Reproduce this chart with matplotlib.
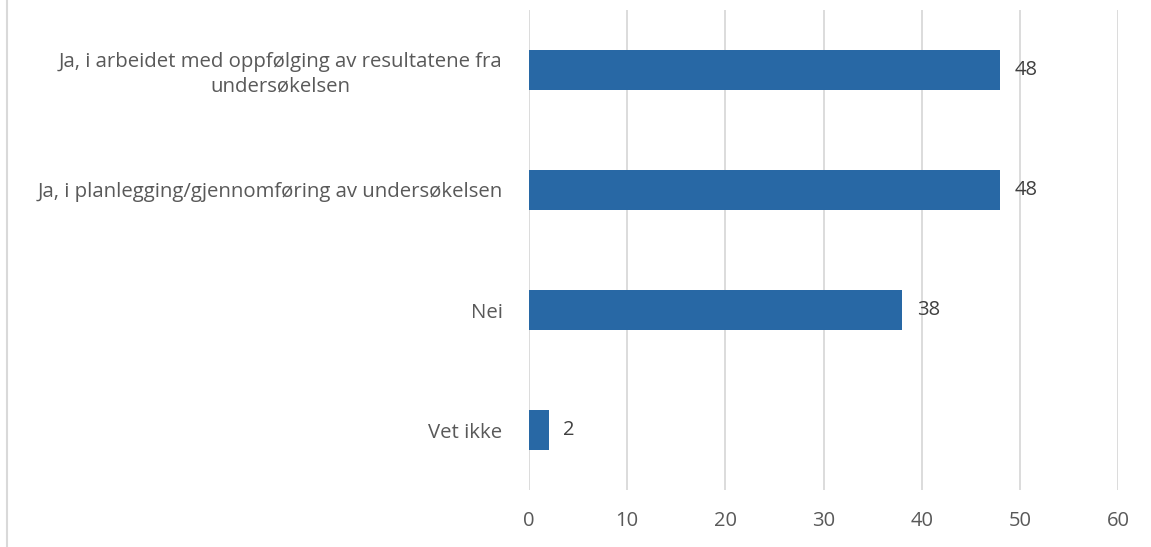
import matplotlib

matplotlib.use("Agg")
import matplotlib.pyplot as plt  # noqa: E402
from matplotlib.lines import Line2D  # noqa: E402

categories = [
    "Ja, i arbeidet med oppfølging av resultatene fra\nundersøkelsen",
    "Ja, i planlegging/gjennomføring av undersøkelsen",
    "Nei",
    "Vet ikke",
]
values = [48, 48, 38, 2]
x_ticks = [0, 10, 20, 30, 40, 50, 60]

plt.rcParams["font.family"] = ["Open Sans", "DejaVu Sans"]
text_color = "#595959"
bar_color = "#2868a5"
grid_color = "#d9d9d9"

fig = plt.figure(figsize=(11.51, 5.47), dpi=100)
ax = fig.add_axes([529 / 1151, 1 - 490 / 547, (1118 - 529) / 1151, 480 / 547])

y = list(range(len(categories)))
ax.barh(y, values, height=0.34, color=bar_color, zorder=3)
for yi, v in zip(y, values):
    ax.text(v + 1.5, yi, str(v), va="center", ha="left", fontsize=14.5, color="#404040")

ax.set_xlim(0, 60)
ax.set_ylim(len(categories) - 0.5, -0.5)
ax.set_xticks(x_ticks)
ax.set_xticklabels([str(t) for t in x_ticks], fontsize=14.5, color=text_color)
ax.set_yticks(y)
ax.set_yticklabels(categories, fontsize=14.7, color=text_color, ha="right",
                   multialignment="center", linespacing=1.3)
ax.tick_params(axis="both", length=0)
ax.tick_params(axis="x", pad=15)
ax.tick_params(axis="y", pad=19)
ax.grid(True, axis="x", color=grid_color, linewidth=1.3, zorder=0)
for s in ax.spines.values():
    s.set_visible(False)

fig.add_artist(Line2D([7 / 1151, 7 / 1151], [0, 1], transform=fig.transFigure,
                      color=grid_color, linewidth=1.5))

fig.savefig("out.png", dpi=100)
